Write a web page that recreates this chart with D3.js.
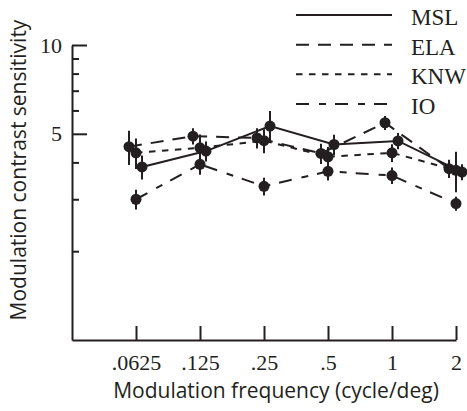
<!DOCTYPE html>
<html>
<head>
<meta charset="utf-8">
<script src="https://cdn.jsdelivr.net/npm/d3@7/dist/d3.min.js"></script>
<style>
 body { margin: 0; background: #fff; }
 svg { display: block; }
 .tick text { font-family: "Liberation Serif", "Times New Roman", serif; font-size: 22px; fill: #231f20; }
 .axis path, .axis line { stroke: #231f20; stroke-width: 2; }
</style>
</head>
<body>
<svg width="467" height="411"></svg>
<script>

// Data.

var freqs = [0.0625, 0.125, 0.25, 0.5, 1, 2];
var freqLabels = ['.0625', '.125', '.25', '.5', '1', '2'];
var observers = ['MSL', 'ELA', 'KNW', 'IO'];

var mslVals = [3.86, 4.37, 5.31, 4.60, 4.73, 3.71];
var mslErr = [0.36, 0.34, 0.66, 0.36, 0.30, 0.23];
var elaVals = [4.52, 4.91, 4.84, 4.29, 5.45, 3.81];
var elaErr = [0.60, 0.31, 0.38, 0.34, 0.30, 0.27];
var knwVals = [4.31, 4.48, 4.74, 4.18, 4.31, 3.76];
var knwErr = [0.51, 0.49, 0.44, 0.33, 0.30, 0.59];
var ioVals = [3.00, 3.94, 3.32, 3.73, 3.61, 2.90];
var ioErr = [0.23, 0.31, 0.23, 0.26, 0.23, 0.16];

var yTicks = [2, 3, 4, 5, 6, 7, 8, 9, 10];
var yLabelled = [5, 10];

// Per-observer drawing style (dash pattern and small horizontal nudge so points don't overlap).

var styles = {
 MSL: {dash: null, nudge: 6},
 ELA: {dash: '13,9', nudge: -7},
 KNW: {dash: '6.5,6.5', nudge: 0},
 IO: {dash: '13,10,7,9', nudge: 0}
};

var series = [
 {name: 'MSL', vals: mslVals, err: mslErr},
 {name: 'ELA', vals: elaVals, err: elaErr},
 {name: 'KNW', vals: knwVals, err: knwErr},
 {name: 'IO', vals: ioVals, err: ioErr}
];

var svg = d3.select('svg');

var x = d3.scaleLog().base(2)
 .domain([0.03125, 2])
 .range([72, 456]);

var y = d3.scaleLog()
 .domain([1, 10])
 .range([340, 45]);

// Axes. Ticks point inward.

var xAxis = svg.append('g')
 .attr('class', 'axis')
 .attr('transform', 'translate(0,340)')
 .call(d3.axisBottom(x)
 .tickValues(freqs)
 .tickFormat(function(d, i) { return freqLabels[i]; })
 .tickSizeInner(-14)
 .tickSizeOuter(0)
 .tickPadding(14));

var yAxis = svg.append('g')
 .attr('class', 'axis')
 .attr('transform', 'translate(72,0)')
 .call(d3.axisLeft(y)
 .tickValues(yTicks)
 .tickFormat(function(d) { return yLabelled.indexOf(d) >= 0 ? d : ''; })
 .tickSizeInner(-7)
 .tickSizeOuter(0)
 .tickPadding(10));

yAxis.selectAll('.tick line')
 .attr('x2', function(d) { return yLabelled.indexOf(d) >= 0 ? 15 : 7; });

// Axis titles.

svg.append('text')
 .attr('x', 276)
 .attr('y', 398)
 .attr('text-anchor', 'middle')
 .style('font-family', '"Open Sans", sans-serif')
 .style('font-size', '21px')
 .style('fill', '#231f20')
 .text('Modulation frequency (cycle/deg)');

svg.append('text')
 .attr('transform', 'translate(26,170) rotate(-90)')
 .attr('text-anchor', 'middle')
 .style('font-family', '"Open Sans", sans-serif')
 .style('font-size', '21px')
 .style('fill', '#231f20')
 .text('Modulation contrast sensitivity');

// Lines, error bars and points.

var px = function(s, i) { return x(freqs[i]) + styles[s.name].nudge; };

var line = d3.line()
 .x(function(d) { return d.x; })
 .y(function(d) { return d.y; });

var plot = svg.append('g');

series.forEach(function(s) {
 var pts = s.vals.map(function(v, i) { return {x: px(s, i), y: y(v)}; });
 plot.append('path')
 .attr('d', line(pts))
 .attr('fill', 'none')
 .attr('stroke', '#231f20')
 .attr('stroke-width', 2)
 .attr('stroke-dasharray', styles[s.name].dash);
});

series.forEach(function(s) {
 var g = plot.append('g');
 g.selectAll('line')
 .data(s.vals)
 .enter().append('line')
 .attr('x1', function(d, i) { return px(s, i); })
 .attr('x2', function(d, i) { return px(s, i); })
 .attr('y1', function(d, i) { return y(d + s.err[i]); })
 .attr('y2', function(d, i) { return y(d - s.err[i]); })
 .attr('stroke', '#231f20')
 .attr('stroke-width', 2);
 g.selectAll('circle')
 .data(s.vals)
 .enter().append('circle')
 .attr('cx', function(d, i) { return px(s, i); })
 .attr('cy', function(d) { return y(d); })
 .attr('r', 5.5)
 .attr('fill', '#231f20');
});

// Legend.

var legend = svg.append('g');
var legendY = d3.scalePoint()
 .domain(observers)
 .range([15, 104]);

observers.forEach(function(name) {
 legend.append('line')
 .attr('x1', 296)
 .attr('x2', 392)
 .attr('y1', legendY(name))
 .attr('y2', legendY(name))
 .attr('stroke', '#231f20')
 .attr('stroke-width', 2)
 .attr('stroke-dasharray', styles[name].dash);
 legend.append('text')
 .attr('x', 411)
 .attr('y', legendY(name) + 10)
 .style('font-family', '"Liberation Serif", "Times New Roman", serif')
 .style('font-size', '23px')
 .style('fill', '#231f20')
 .text(name);
});

</script>
</body>
</html>
